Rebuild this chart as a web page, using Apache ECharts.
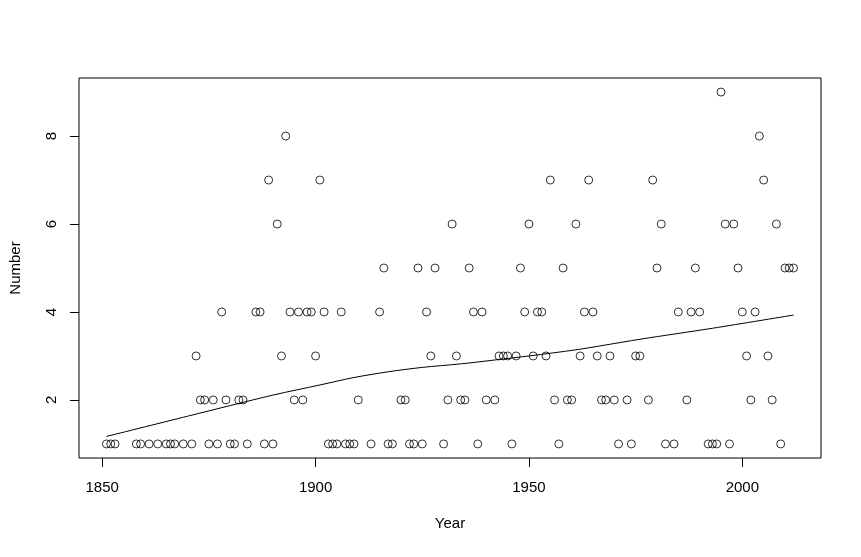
<!DOCTYPE html>
<html>
<head>
<meta charset="utf-8">
<script src="https://cdn.jsdelivr.net/npm/echarts@6/dist/echarts.min.js"></script>
<style>
html,body{margin:0;padding:0;background:#fff;}
#chart{width:861px;height:557px;}
</style>
</head>
<body>
<div id="chart"></div>
<script>
// Observed data (year, number)
const years = [1851,1852,1853,1858,1859,1861,1863,1865,1866,1867,1869,1871,1872,1873,1874,1875,1876,1877,1878,1879,1880,1881,1882,1883,1884,1886,1887,1888,1889,1890,1891,1892,1893,1894,1895,1896,1897,1898,1899,1900,1901,1902,1903,1904,1905,1906,1907,1908,1909,1910,1913,1915,1916,1917,1918,1920,1921,1922,1923,1924,1925,1926,1927,1928,1930,1931,1932,1933,1934,1935,1936,1937,1938,1939,1940,1942,1943,1944,1945,1946,1947,1948,1949,1950,1951,1952,1953,1954,1955,1956,1957,1958,1959,1960,1961,1962,1963,1964,1965,1966,1967,1968,1969,1970,1971,1973,1974,1975,1976,1978,1979,1980,1981,1982,1984,1985,1987,1988,1989,1990,1992,1993,1994,1995,1996,1997,1998,1999,2000,2001,2002,2003,2004,2005,2006,2007,2008,2009,2010,2011,2012];
const counts = [1,1,1,1,1,1,1,1,1,1,1,1,3,2,2,1,2,1,4,2,1,1,2,2,1,4,4,1,7,1,6,3,8,4,2,4,2,4,4,3,7,4,1,1,1,4,1,1,1,2,1,4,5,1,1,2,2,1,1,5,1,4,3,5,1,2,6,3,2,2,5,4,1,4,2,2,3,3,3,1,3,5,4,6,3,4,4,3,7,2,1,5,2,2,6,3,4,7,4,3,2,2,3,2,1,2,1,3,3,2,7,5,6,1,1,4,2,4,5,4,1,1,1,9,6,1,6,5,4,3,2,4,8,7,3,2,6,1,5,5,5];

// Smoothed trend line
const trendYears = [1851,1870,1890,1901,1909,1917,1925,1934,1943,1950,1961,1968,1976,1993,2012];
const trendValues = [1.17,1.63,2.11,2.34,2.51,2.64,2.74,2.82,2.92,3.00,3.14,3.25,3.38,3.63,3.93];

const xTicks = [1850,1900,1950,2000];
const yTicks = [2,4,6,8];

const chart = echarts.init(document.getElementById('chart'), null, {renderer:'canvas'});
const font = 'Liberation Sans, Arial, Helvetica, sans-serif';
const xr = [Math.min(...years), Math.max(...years)];
const yr = [Math.min(...counts), Math.max(...counts)];
const xPad = (xr[1]-xr[0])*0.04, yPad = (yr[1]-yr[0])*0.04;

chart.setOption({
  animation:false,
  backgroundColor:'#fff',
  grid:{left:79, top:78, width:742, height:380, show:true, borderColor:'#000', borderWidth:1, backgroundColor:'transparent'},
  xAxis:{
    type:'value', min:xr[0]-xPad, max:xr[1]+xPad,
    name:'Year', nameLocation:'middle', nameGap:58,
    nameTextStyle:{color:'#000', fontSize:15, fontFamily:font},
    axisLine:{show:false},
    axisTick:{show:true, inside:false, length:9, lineStyle:{color:'#000', width:1}, customValues:xTicks},
    axisLabel:{show:true, color:'#000', fontSize:15, fontFamily:font, margin:22, customValues:xTicks, formatter:v=>String(v)},
    splitLine:{show:false}
  },
  yAxis:{
    type:'value', min:yr[0]-yPad, max:yr[1]+yPad,
    name:'Number', nameLocation:'middle', nameGap:56, nameRotate:90,
    nameTextStyle:{color:'#000', fontSize:15, fontFamily:font},
    axisLine:{show:false},
    axisTick:{show:true, inside:false, length:9, lineStyle:{color:'#000', width:1}, customValues:yTicks},
    axisLabel:{show:true, color:'#000', fontSize:15, fontFamily:font, margin:20, rotate:90, customValues:yTicks, formatter:v=>String(v)},
    splitLine:{show:false}
  },
  series:[
    {
      type:'scatter',
      data: years.map((y,i)=>[y,counts[i]]),
      symbol:'circle', symbolSize:8,
      itemStyle:{color:'transparent', borderColor:'#000', borderWidth:1},
      emphasis:{disabled:true}
    },
    {
      type:'line',
      data: trendYears.map((y,i)=>[y,trendValues[i]]),
      showSymbol:false, smooth:0.3,
      lineStyle:{color:'#000', width:1},
      emphasis:{disabled:true}
    }
  ]
});
</script>
</body>
</html>
